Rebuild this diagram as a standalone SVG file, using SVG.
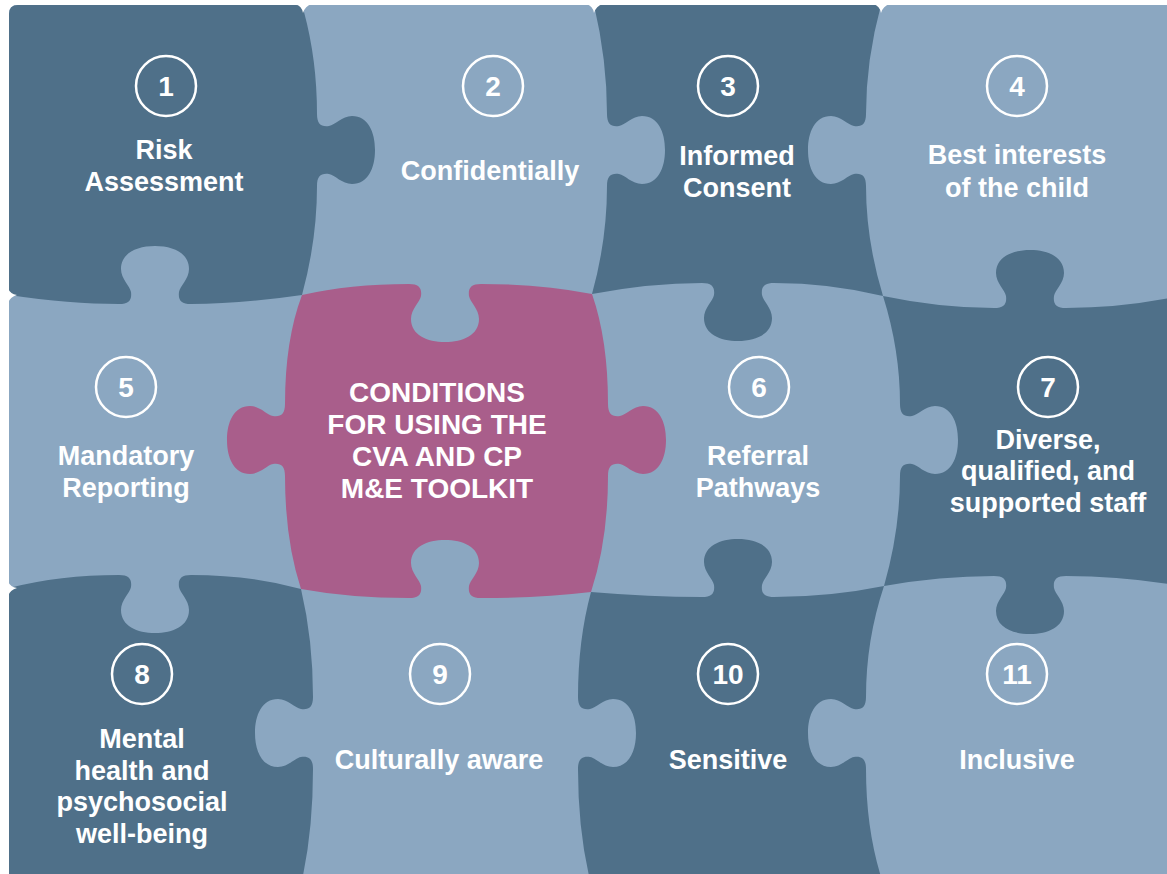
<svg xmlns="http://www.w3.org/2000/svg" width="1167" height="874" viewBox="0 0 1167 874">
<defs>
<style>
.dark{fill:#4F7089}
.light{fill:#8BA7C1}
.pink{fill:#A95E8B}
.ring{fill:none;stroke:#FFFFFF;stroke-width:2.5}
.num{font-family:"Liberation Sans",Arial,Helvetica,sans-serif;font-weight:bold;font-size:28px;fill:#FFFFFF;text-anchor:middle}
.lbl{font-family:"Liberation Sans",Arial,Helvetica,sans-serif;font-weight:bold;font-size:27px;fill:#FFFFFF;text-anchor:middle}
.big{font-size:28px}
</style>
</defs>
<rect width="1167" height="874" fill="#FFFFFF"/>
<g id="board">
<rect class="light" x="9" y="5" width="1170" height="880" rx="8"/>
</g>
<g id="piece-1">
<path class="dark" d="M 9,14 Q 9,5 18,5 L 296,5 Q 303,5 304,12 Q 317,60 317,114 C 317,124 321,127 329,126 C 335,125 342,116 352,116 C 368,116 375,132 375,150 C 375,168 368,184 352,184 C 342,184 335,175 329,174 C 321,173 317,176 317,186 Q 317,240 302,295 Q 240,304 191,304 C 181,304 178,300 179,292 C 180,286 189,279 189,269 C 189,253 173,246 155,246 C 137,246 121,253 121,269 C 121,279 130,286 131,292 C 132,300 129,304 119,304 Q 70,304 9,295 Z"/>
<circle class="ring" cx="166" cy="86" r="30"/>
<text class="num" x="166" y="96">1</text>
<text class="lbl" x="164" y="159">Risk</text>
<text class="lbl" x="164" y="191">Assessment</text>
</g>
<g id="piece-2">
<circle class="ring" cx="493" cy="86" r="30"/>
<text class="num" x="493" y="96">2</text>
<text class="lbl" x="490" y="180">Confidentially</text>
</g>
<g id="piece-3">
<path class="dark" d="M 594,5 L 881,5 Q 866,60 866,114 C 866,124 862,127 854,126 C 848,125 841,116 831,116 C 815,116 808,132 808,150 C 808,168 815,184 831,184 C 841,184 848,175 854,174 C 862,173 866,176 866,186 Q 866,240 883,296 Q 830,283 774,283 C 764,283 761,287 762,295 C 763,301 772,308 772,318 C 772,334 756,341 738,341 C 720,341 704,334 704,318 C 704,308 713,301 714,295 C 715,287 712,283 702,283 Q 650,283 592,294 Q 607,240 607,186 C 607,176 611,173 619,174 C 625,175 632,184 642,184 C 658,184 665,168 665,150 C 665,132 658,116 642,116 C 632,116 625,125 619,126 C 611,127 607,124 607,114 Q 607,60 594,5 Z"/>
<circle class="ring" cx="728" cy="86" r="30"/>
<text class="num" x="728" y="96">3</text>
<text class="lbl" x="737" y="165">Informed</text>
<text class="lbl" x="737" y="197">Consent</text>
</g>
<g id="piece-4">
<circle class="ring" cx="1017" cy="86" r="30"/>
<text class="num" x="1017" y="96">4</text>
<text class="lbl" x="1017" y="164">Best interests</text>
<text class="lbl" x="1017" y="197">of the child</text>
</g>
<g id="piece-5">
<circle class="ring" cx="126" cy="387" r="30"/>
<text class="num" x="126" y="397">5</text>
<text class="lbl" x="126" y="465">Mandatory</text>
<text class="lbl" x="126" y="497">Reporting</text>
</g>
<g id="piece-center">
<path class="pink" d="M 302,295 Q 350,284 409,284 C 419,284 422,288 421,296 C 420,302 411,309 411,319 C 411,335 427,342 445,342 C 463,342 479,335 479,319 C 479,309 470,302 469,296 C 468,288 471,284 481,284 Q 540,284 592,294 Q 608,340 608,404 C 608,414 612,417 620,416 C 626,415 633,406 643,406 C 659,406 666,422 666,440 C 666,458 659,474 643,474 C 633,474 626,465 620,464 C 612,463 608,466 608,476 Q 608,540 591,592 Q 540,598 481,598 C 471,598 468,594 469,586 C 470,580 479,573 479,563 C 479,547 463,540 445,540 C 427,540 411,547 411,563 C 411,573 420,580 421,586 C 422,594 419,598 409,598 Q 350,598 301,589 Q 285,540 285,476 C 285,466 281,463 273,464 C 267,465 260,474 250,474 C 234,474 227,458 227,440 C 227,422 234,406 250,406 C 260,406 267,415 273,416 C 281,417 285,414 285,404 Q 285,340 302,295 Z"/>
<text class="lbl big" x="437" y="402">CONDITIONS</text>
<text class="lbl big" x="437" y="434">FOR USING THE</text>
<text class="lbl big" x="437" y="466">CVA AND CP</text>
<text class="lbl big" x="437" y="498">M&amp;E TOOLKIT</text>
</g>
<g id="piece-6">
<circle class="ring" cx="759" cy="387" r="30"/>
<text class="num" x="759" y="397">6</text>
<text class="lbl" x="758" y="465">Referral</text>
<text class="lbl" x="758" y="497">Pathways</text>
</g>
<g id="piece-7">
<path class="dark" d="M 883,296 Q 940,308 994,308 C 1004,308 1007,304 1006,296 C 1005,290 996,283 996,273 C 996,257 1012,250 1030,250 C 1048,250 1064,257 1064,273 C 1064,283 1055,290 1054,296 C 1053,304 1056,308 1066,308 Q 1120,308 1175,297 L 1175,585 Q 1120,576 1066,576 C 1056,576 1053,580 1054,588 C 1055,594 1064,601 1064,611 C 1064,627 1048,634 1030,634 C 1012,634 996,627 996,611 C 996,601 1005,594 1006,588 C 1007,580 1004,576 994,576 Q 940,576 884,586 Q 900,530 900,476 C 900,466 904,463 912,464 C 918,465 925,474 935,474 C 951,474 958,458 958,440 C 958,422 951,406 935,406 C 925,406 918,415 912,416 C 904,417 900,414 900,404 Q 900,350 883,296 Z"/>
<circle class="ring" cx="1048" cy="387" r="30"/>
<text class="num" x="1048" y="397">7</text>
<text class="lbl" x="1048" y="449">Diverse,</text>
<text class="lbl" x="1048" y="480">qualified, and</text>
<text class="lbl" x="1048" y="512">supported staff</text>
</g>
<g id="piece-8">
<path class="dark" d="M 9,588 Q 60,575 119,575 C 129,575 132,579 131,587 C 130,593 121,600 121,610 C 121,626 137,633 155,633 C 173,633 189,626 189,610 C 189,600 180,593 179,587 C 178,579 181,575 191,575 Q 250,575 301,589 Q 313,640 313,697 C 313,707 309,710 301,709 C 295,708 288,699 278,699 C 262,699 255,715 255,733 C 255,751 262,767 278,767 C 288,767 295,758 301,757 C 309,756 313,759 313,769 Q 313,830 302,880 L 9,880 Z"/>
<circle class="ring" cx="142" cy="674" r="30"/>
<text class="num" x="142" y="684">8</text>
<text class="lbl" x="142" y="748">Mental</text>
<text class="lbl" x="142" y="780">health and</text>
<text class="lbl" x="142" y="811">psychosocial</text>
<text class="lbl" x="142" y="843">well-being</text>
</g>
<g id="piece-9">
<circle class="ring" cx="440" cy="674" r="30"/>
<text class="num" x="440" y="684">9</text>
<text class="lbl" x="439" y="769">Culturally aware</text>
</g>
<g id="piece-10">
<path class="dark" d="M 591,592 Q 650,597 702,597 C 712,597 715,593 714,585 C 713,579 704,572 704,562 C 704,546 720,539 738,539 C 756,539 772,546 772,562 C 772,572 763,579 762,585 C 761,593 764,597 774,597 Q 830,597 884,586 Q 866,640 866,697 C 866,707 862,710 854,709 C 848,708 841,699 831,699 C 815,699 808,715 808,733 C 808,751 815,767 831,767 C 841,767 848,758 854,757 C 862,756 866,759 866,769 Q 866,830 882,880 L 590,880 Q 578,830 578,769 C 578,759 582,756 590,757 C 596,758 603,767 613,767 C 629,767 636,751 636,733 C 636,715 629,699 613,699 C 603,699 596,708 590,709 C 582,710 578,707 578,697 Q 578,640 591,592 Z"/>
<circle class="ring" cx="728" cy="674" r="30"/>
<text class="num" x="728" y="684">10</text>
<text class="lbl" x="728" y="769">Sensitive</text>
</g>
<g id="piece-11">
<circle class="ring" cx="1017" cy="674" r="30"/>
<text class="num" x="1017" y="684">11</text>
<text class="lbl" x="1017" y="769">Inclusive</text>
</g>
<g id="seams" fill="#FFFFFF">
<path d="M 295,4 Q 302,6 303,13 Q 305,6 312,4 Z"/>
<path d="M 586,4 Q 593,6 594,13 Q 596,6 603,4 Z"/>
<path d="M 873,4 Q 880,6 881,13 Q 883,6 890,4 Z"/>
<path d="M 8,288 Q 10,294 17,295 Q 10,297 8,303 Z"/>
<path d="M 8,581 Q 10,587 17,588 Q 10,590 8,596 Z"/>
</g>
</svg>
